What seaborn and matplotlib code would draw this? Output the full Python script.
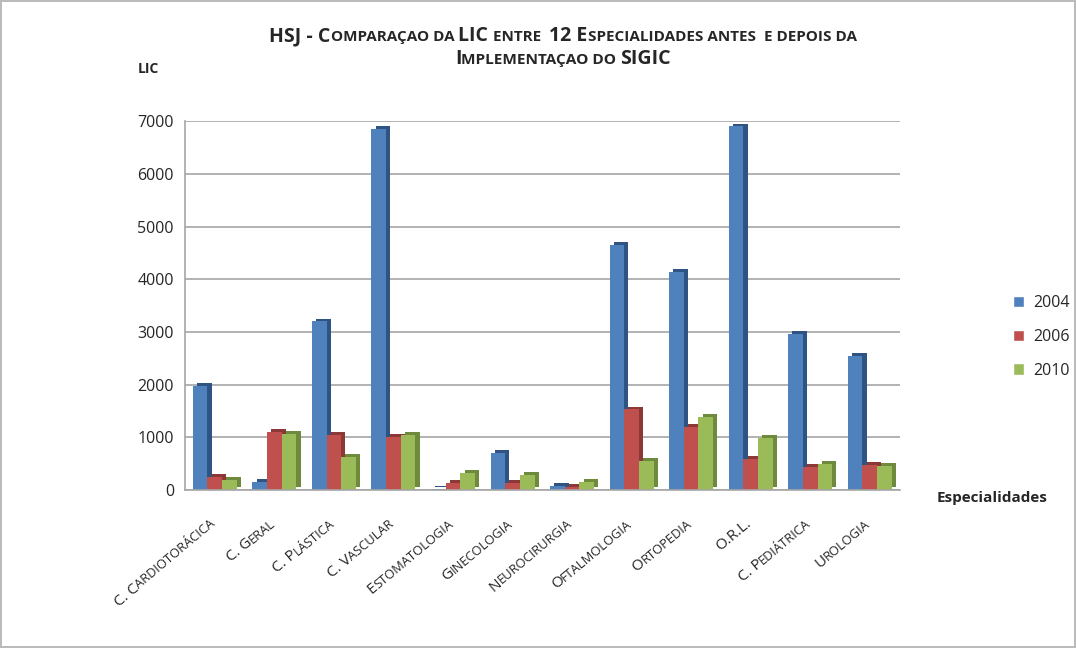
import matplotlib
matplotlib.use("Agg")
import math
import matplotlib.pyplot as plt
import matplotlib.patheffects as pe
import matplotlib.transforms as mtransforms
from matplotlib.patches import Patch
import seaborn as sns
import pandas as pd

categories = ["C. Cardiotorácica", "C. Geral", "C. Plástica", "C. Vascular",
              "Estomatologia", "Ginecologia", "Neurocirurgia", "Oftalmologia",
              "Ortopedia", "O.R.L.", "C. Pediátrica", "Urologia"]
years = ["2004", "2006", "2010"]
v2004 = [1970, 150, 3200, 6850, 20, 700, 80, 4650, 4140, 6900, 2960, 2540]
v2006 = [250, 1100, 1040, 1000, 130, 130, 60, 1530, 1190, 590, 430, 480]
v2010 = [190, 1060, 620, 1040, 320, 280, 150, 550, 1390, 990, 490, 450]
yticks = [0, 1000, 2000, 3000, 4000, 5000, 6000, 7000]
title1 = "HSJ - Comparaçao da LIC entre  12 Especialidades antes  e depois da"
title2 = "Implementaçao do SIGIC"

colors = ["#4F81BD", "#C0504D", "#9BBB59"]
side = ["#2F5484", "#8C3836", "#6E8A3C"]

rows = []
for c, a, b, d in zip(categories, v2004, v2006, v2010):
    rows += [(c, years[0], a), (c, years[1], b), (c, years[2], d)]
df = pd.DataFrame(rows, columns=["cat", "year", "val"])

sns.set_style("white")
plt.rcParams["font.family"] = ["Open Sans", "DejaVu Sans"]

fig = plt.figure(figsize=(10.76, 6.48), dpi=100)
fig.patch.set_edgecolor("#BBBBBB")
fig.patch.set_linewidth(1.5)
ax = fig.add_axes([0.172, 0.244, 0.664, 0.569])

sns.barplot(data=df, x="cat", y="val", hue="year", palette=colors,
            width=0.74, saturation=1, ax=ax, legend=False, linewidth=0)

for i, cont in enumerate(ax.containers):
    for bar in cont:
        bar.set_path_effects([
            pe.SimplePatchShadow(offset=(3, 2), shadow_rgbFace=side[i], alpha=1.0),
            pe.Normal()])

ax.set_ylim(0, 7000)
ax.set_xlim(-0.5, len(categories) - 0.5)
ax.set_yticks(yticks)
ax.set_yticklabels([str(t) for t in yticks], fontsize=11.5)
ax.yaxis.grid(True, color="#A6A6A6", linewidth=1.2)
ax.set_axisbelow(True)
ax.tick_params(axis="y", length=4, color="#A6A6A6", pad=4)
ax.set_xticks(range(len(categories)))
ax.set_xticklabels([""] * len(categories))
ax.tick_params(axis="x", length=0)
ax.set_xticks([i + 0.5 for i in range(-1, len(categories))], minor=True)
ax.tick_params(axis="x", which="minor", length=6, color="#A6A6A6", width=1)
for s in ["top", "right"]:
    ax.spines[s].set_visible(False)
for s in ["left", "bottom"]:
    ax.spines[s].set_color("#A6A6A6")
    ax.spines[s].set_linewidth(1.2)
ax.set_xlabel("")
ax.set_ylabel("")

renderer = fig.canvas.get_renderer()


def runs_of(text):
    out = []
    for ch in text:
        big = not ch.islower()
        if ch == " ":
            big = out[-1][1] if out else True
        if out and out[-1][1] == big:
            out[-1][0] += ch.upper()
        else:
            out.append([ch.upper(), big])
    return out


def measure(s, size, weight):
    t1 = fig.text(0, 0, "|" + s + "|", fontsize=size, fontweight=weight)
    t2 = fig.text(0, 0, "||", fontsize=size, fontweight=weight)
    w = t1.get_window_extent(renderer).width - t2.get_window_extent(renderer).width
    t1.remove()
    t2.remove()
    return w


def smallcaps_fig(text, cx_px, y_frac, big, small, weight="bold", target_w=None):
    runs = runs_of(text)
    widths = [measure(s, big if b else small, weight) for s, b in runs]
    W = sum(widths)
    k = 1.0
    if target_w:
        k = target_w / W
        widths = [measure(s, (big if b else small) * k, weight) for s, b in runs]
        W = sum(widths)
    x = cx_px - W / 2
    for (s, b), w in zip(runs, widths):
        fig.text(x / fig.bbox.width, y_frac, s, fontsize=(big if b else small) * k,
                 fontweight=weight, ha="left", va="baseline")
        x += w


smallcaps_fig(title1, 563, 0.936, 11, 8.6, target_w=590)
smallcaps_fig(title2, 563, 0.901, 11, 8.6, target_w=217)

ang = 40
BIG, SMALL = 11, 9.3
ca, sa = math.cos(math.radians(ang)), math.sin(math.radians(ang))
xtrans = ax.get_xaxis_transform()
for i, lab in enumerate(categories):
    runs = runs_of(lab)
    widths = [measure(s, BIG if b else SMALL, "normal") for s, b in runs]
    W = sum(widths)
    ex, ey = 1, -35
    pos = 0.0
    for (s, b), w in zip(runs, widths):
        dx = ex - (W - pos) * ca
        dy = ey - (W - pos) * sa
        tr = mtransforms.offset_copy(xtrans, fig=fig, x=dx, y=dy, units="dots")
        ax.text(i, 0, s, transform=tr, fontsize=BIG if b else SMALL, rotation=ang,
                rotation_mode="anchor", ha="left", va="baseline", clip_on=False)
        pos += w

fig.text(0.138, 0.893, "LIC", fontsize=10, fontweight="bold", ha="center", va="center")
fig.text(0.922, 0.232, "Especialidades", fontsize=11, fontweight="bold", ha="center", va="center")

handles = [Patch(facecolor=c, label=y) for c, y in zip(colors, years)]
fig.legend(handles=handles, loc="center left", bbox_to_anchor=(0.928, 0.48),
           frameon=False, fontsize=11.5, handlelength=0.7, handleheight=0.7,
           labelspacing=1.1, handletextpad=0.6)

fig.savefig("out.png", dpi=100)
